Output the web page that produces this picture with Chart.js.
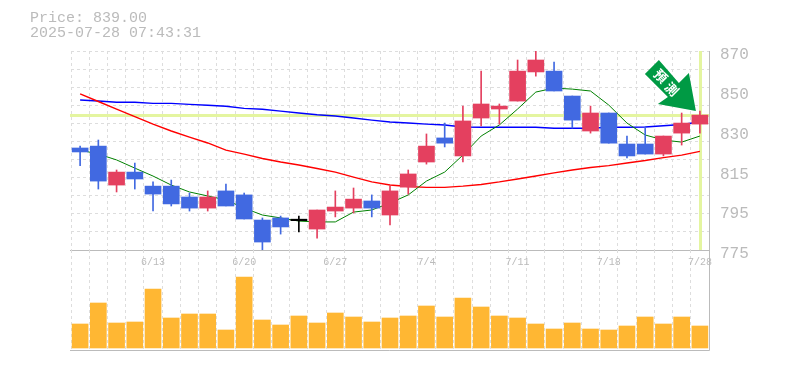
<!DOCTYPE html>
<html>
<head>
<meta charset="utf-8">
<style>
html, body { margin: 0; padding: 0; background: #fff; }
#wrap { position: relative; width: 785px; height: 370px; overflow: hidden; }
#wrap canvas { position: absolute; left: 0; top: 0; }
.head { position: absolute; left: 30px; font: 15px "Liberation Mono", monospace; color: #bbb; white-space: pre; }
</style>
<script src="https://cdn.jsdelivr.net/npm/chart.js@4"></script>
</head>
<body>
<div id="wrap">
  <canvas id="price" width="785" height="370"></canvas>
  <canvas id="volume" width="785" height="370"></canvas>
  <div class="head" style="top:10px">Price: 839.00</div>
  <div class="head" style="top:25px">2025-07-28 07:43:31</div>
</div>
<script>
const dates = ['6/9','6/10','6/11','6/12','6/13','6/16','6/17','6/18','6/19','6/20','6/23','6/24','6/25','6/26','6/27','6/30','7/1','7/2','7/3','7/4','7/7','7/8','7/9','7/10','7/11','7/14','7/15','7/16','7/17','7/18','7/22','7/23','7/24','7/25','7/28'];
const labeledDates = ['6/13','6/20','6/27','7/4','7/11','7/18','7/28'];

const opens = [823.7,824.6,806.0,812.2,805.5,805.5,800.3,795.0,803.2,801.3,789.3,790.3,789.0,785.0,793.6,795.0,798.4,791.7,805.0,817.0,828.5,819.9,838.0,842.3,846.1,860.0,860.4,848.5,831.8,840.4,825.6,825.6,820.8,830.8,835.1];
const closes = [821.8,807.9,812.2,808.9,801.7,797.0,795.0,800.3,796.0,789.8,778.8,786.0,789.0,794.1,795.5,799.3,795.0,803.2,811.3,824.6,826.0,836.6,844.7,843.7,860.4,865.7,850.9,837.0,840.4,826.0,819.9,820.8,829.4,835.6,839.4];
const highs = [824.6,827.5,813.2,816.5,807.5,808.4,802.2,803.2,806.5,802.2,790.3,791.2,791.2,794.1,803.2,804.6,801.3,805.5,813.2,830.4,835.6,843.7,860.4,844.7,865.7,870.0,864.7,848.5,843.7,840.4,829.4,833.7,829.4,840.4,841.3];
const lows = [815.2,804.1,802.7,804.1,793.6,796.0,793.6,793.6,796.0,789.8,775.0,782.6,783.6,780.7,790.8,792.7,790.8,787.0,801.7,816.0,824.2,817.0,834.2,835.1,846.1,858.0,850.9,833.2,830.8,826.0,818.9,820.8,819.9,825.1,830.8];

const maShort = [822.7,820.8,818.0,814.1,810.3,806.0,802.7,800.8,798.9,795.0,791.7,790.3,788.8,788.4,788.4,793.1,794.1,797.4,801.3,807.9,812.2,820.3,829.4,834.7,842.3,850.4,852.3,851.8,850.9,844.2,835.6,829.9,827.5,826.5,829.4];
const maMid = [849.5,845.9,842.3,838.7,835.1,831.8,828.9,826.1,822.7,820.8,818.7,817.0,815.6,813.9,812.2,809.8,807.5,806.0,805.3,804.9,804.9,805.5,806.3,807.5,808.9,810.3,811.8,813.2,814.4,815.3,816.5,817.7,819.1,820.3,822.1];
const maLong = [846.6,846.1,845.5,845.5,845.0,845.0,844.5,844.1,843.6,842.6,842.2,841.3,840.4,839.6,839.0,838.0,837.0,836.1,835.6,835.1,834.7,833.7,833.6,833.6,833.6,833.6,833.1,833.1,833.1,833.6,833.6,833.7,834.3,834.9,836.1];

const volumes = [24,45,25,26,59,30,34,34,18,71,28,23,32,25,35,31,26,30,32,42,31,50,41,32,30,24,19,25,19,18,22,31,24,31,22];

const priceTicks = [775,794,813,832,851,870];
const priceTickLabels = ['775','795','815','830','850','870'];
const lastPrice = 839;
const signalText = ['預','測'];

const gridColor = '#ddd';
const axisColor = '#bbb';
const textColor = '#bbb';
const upColor = '#e4405f';
const downColor = '#4169e1';
const levelColor = '#e4f5a0';
const signalColor = '#009a44';

const candleColors = opens.map((o, i) => closes[i] > o ? upColor : closes[i] < o ? downColor : '#000');

// horizontal and vertical marker for the last price, under the candles
const lastPriceMarker = {
    id: 'lastPriceMarker',
    beforeDatasetsDraw(chart) {
        const { ctx, chartArea, scales } = chart;
        const py = scales.y.getPixelForValue(lastPrice);
        const px = scales.x.getPixelForValue(dates.length - 1);
        ctx.save();
        ctx.fillStyle = levelColor;
        ctx.fillRect(chartArea.left - 1, Math.round(py - 1.5), chartArea.width + 1, 3);
        ctx.fillRect(Math.round(px - 1), chartArea.top, 3, chartArea.height);
        ctx.restore();
    }
};

// green arrow with its two rotated characters, anchored on the last candle
const signalArrow = {
    id: 'signalArrow',
    afterDatasetsDraw(chart) {
        const { ctx, scales } = chart;
        const tipX = scales.x.getPixelForValue(dates.length - 1) - 4;
        const tipY = scales.y.getPixelForValue(highs[highs.length - 1]);
        const shape = [[-37,-51],[-51,-37],[-28,-14],[-38,-7],[0,0],[-7,-38],[-17,-28]];
        ctx.save();
        ctx.translate(tipX, tipY);
        ctx.beginPath();
        shape.forEach(([sx, sy], i) => i ? ctx.lineTo(sx, sy) : ctx.moveTo(sx, sy));
        ctx.closePath();
        ctx.fillStyle = signalColor;
        ctx.fill();
        ctx.fillStyle = '#fff';
        ctx.font = 'bold 13px "Noto Sans CJK TC"';
        ctx.textAlign = 'center';
        ctx.textBaseline = 'middle';
        [[-35,-35],[-24,-22]].forEach(([cx, cy], i) => {
            ctx.save();
            ctx.translate(cx, cy);
            ctx.rotate(Math.PI / 4);
            ctx.fillText(signalText[i], 0, 0);
            ctx.restore();
        });
        ctx.restore();
    }
};

// right and bottom border of a panel
const panelBorder = {
    id: 'panelBorder',
    afterDraw(chart) {
        const { ctx, chartArea } = chart;
        const right = 709.5;
        const bottom = Math.round(chartArea.bottom) + 0.5;
        ctx.save();
        ctx.strokeStyle = axisColor;
        ctx.lineWidth = 1;
        ctx.beginPath();
        ctx.moveTo(right, chartArea.top);
        ctx.lineTo(right, bottom);
        ctx.moveTo(chartArea.left - 1, bottom);
        ctx.lineTo(right, bottom);
        ctx.stroke();
        ctx.restore();
    }
};

// date labels sit inside the top of the volume panel
const dateLabels = {
    id: 'dateLabels',
    afterDraw(chart) {
        const { ctx, scales } = chart;
        ctx.save();
        ctx.fillStyle = textColor;
        ctx.font = '10px "Liberation Mono"';
        ctx.textAlign = 'center';
        ctx.textBaseline = 'middle';
        labeledDates.forEach(d => ctx.fillText(d, scales.x.getPixelForValue(dates.indexOf(d)), chart.chartArea.top + 12));
        ctx.restore();
    }
};

const lineSet = (data, color, width) => ({
    type: 'line', data, borderColor: color, borderWidth: width, pointRadius: 0, tension: 0, order: 3
});

new Chart(document.getElementById('price'), {
    data: {
        labels: dates,
        datasets: [
            lineSet(maShort, '#008000', 1),
            lineSet(maMid, '#ff0000', 1.4),
            lineSet(maLong, '#0000ff', 1.4),
            {
                type: 'bar',
                data: lows.map((l, i) => [l, highs[i]]),
                backgroundColor: candleColors,
                barThickness: 1,
                grouped: false,
                order: 2
            },
            {
                type: 'bar',
                data: opens.map((o, i) => [o, closes[i]]),
                backgroundColor: candleColors,
                barThickness: 16,
                minBarLength: 1.5,
                grouped: false,
                order: 1
            }
        ]
    },
    plugins: [lastPriceMarker, signalArrow, panelBorder],
    options: {
        responsive: false,
        animation: false,
        layout: { padding: { left: 71, right: 0, top: 51, bottom: 120 } },
        plugins: { legend: { display: false }, tooltip: { enabled: false } },
        scales: {
            x: {
                type: 'category',
                offset: true,
                grid: { offset: true, color: gridColor, drawTicks: false },
                border: { display: false, dash: [3, 3] },
                ticks: { display: false }
            },
            y: {
                min: 775,
                max: 870,
                position: 'left',
                afterFit(scale) { scale.width = 0; },
                grid: { color: gridColor, drawTicks: false },
                border: { display: false, dash: [3, 3] },
                ticks: { display: false, stepSize: 95 / 11 }
            },
            priceAxis: {
                min: 775,
                max: 870,
                position: 'right',
                afterBuildTicks(scale) { scale.ticks = priceTicks.map(value => ({ value })); },
                afterFit(scale) { scale.width = 76; },
                grid: { display: false, drawTicks: false },
                border: { display: false },
                ticks: {
                    autoSkip: false,
                    padding: 11,
                    color: textColor,
                    font: { family: '"Liberation Mono"', size: 16 },
                    labelOffset: 4,
                    callback: (value) => priceTickLabels[priceTicks.indexOf(value)]
                }
            }
        }
    }
});

new Chart(document.getElementById('volume'), {
    type: 'bar',
    data: {
        labels: dates,
        datasets: [{ data: volumes, backgroundColor: '#ffb733', barThickness: 16 }]
    },
    plugins: [panelBorder, dateLabels],
    options: {
        responsive: false,
        animation: false,
        layout: { padding: { left: 71, right: 76, top: 250, bottom: 20 } },
        plugins: { legend: { display: false }, tooltip: { enabled: false } },
        scales: {
            x: {
                offset: true,
                grid: { offset: true, color: gridColor, drawTicks: false },
                border: { display: false, dash: [3, 3] },
                ticks: { display: false }
            },
            y: {
                min: -2,
                max: 98,
                afterFit(scale) { scale.width = 0; },
                grid: { display: false, drawTicks: false },
                border: { display: false },
                ticks: { display: false }
            }
        }
    }
});
</script>
</body>
</html>
